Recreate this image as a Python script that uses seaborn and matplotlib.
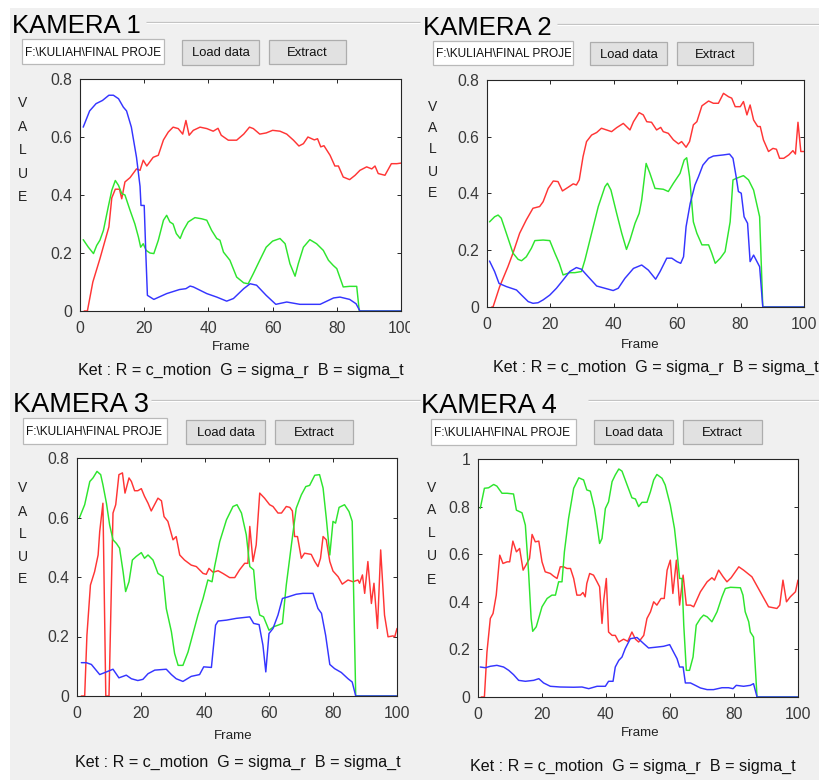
import matplotlib
matplotlib.use("Agg")
import matplotlib.pyplot as plt
import seaborn as sns
import pandas as pd
from matplotlib.patches import Rectangle
from matplotlib.transforms import Bbox

# ---------------------------------------------------------------------------
# Data: (frame, value) pairs for each camera and feature
# R = c_motion, G = sigma_r, B = sigma_t
# ---------------------------------------------------------------------------
K1_C_MOTION = [(1.3, 0), (2.3, 0), (4, 0.1), (6.2, 0.18), (9, 0.29), (9.9, 0.39), (11, 0.42), (12.3, 0.42),
               (13, 0.387), (14, 0.445), (15.6, 0.46), (17.6, 0.49), (18.7, 0.485), (19.7, 0.52), (20.8, 0.5),
               (22.8, 0.53), (24.4, 0.537), (26, 0.59), (27.5, 0.617), (29, 0.634), (30.6, 0.629), (32, 0.61),
               (33, 0.657), (34, 0.606), (35.3, 0.623), (37.4, 0.634), (39.5, 0.629), (41.5, 0.62), (43, 0.63),
               (44, 0.606), (46.2, 0.589), (48.8, 0.589), (51, 0.61), (52.8, 0.634), (54, 0.629), (56, 0.61),
               (58, 0.614), (60, 0.623), (62.3, 0.62), (64.4, 0.61), (66.5, 0.589), (68.2, 0.569), (69.6, 0.577),
               (71, 0.6), (73, 0.59), (74, 0.594), (75, 0.566), (76, 0.57), (77.9, 0.537), (79.4, 0.5),
               (80.5, 0.5), (82, 0.462), (84, 0.453), (85.7, 0.468), (87.2, 0.485), (89.3, 0.497), (90.9, 0.49),
               (91.9, 0.5), (92.9, 0.474), (95, 0.468), (97, 0.508), (98.7, 0.508), (100, 0.51)]
K1_SIGMA_R = [(1, 0.246), (2.6, 0.22), (4.2, 0.198), (5.2, 0.226), (6.2, 0.244), (7.3, 0.278), (8.8, 0.359),
              (9.9, 0.416), (11, 0.45), (12, 0.433), (13, 0.405), (14, 0.4), (15.6, 0.347), (17.1, 0.3),
              (18.2, 0.255), (18.9, 0.22), (19.7, 0.232), (20.6, 0.209), (21.8, 0.2), (23, 0.198), (24.4, 0.244),
              (26, 0.313), (27, 0.33), (28, 0.307), (29, 0.3), (30, 0.267), (31.2, 0.25), (32.2, 0.278),
              (33.7, 0.307), (35.8, 0.322), (37.9, 0.318), (39.5, 0.313), (41, 0.278), (42.6, 0.25),
              (43.6, 0.244), (44.7, 0.203), (46.7, 0.175), (48.8, 0.117), (51, 0.097), (52.4, 0.094), (54, 0.129),
              (56, 0.175), (58, 0.22), (60, 0.241), (62.3, 0.25), (63.9, 0.232), (65.4, 0.163), (67, 0.12),
              (68, 0.163), (69.6, 0.22), (71.6, 0.246), (73.7, 0.232), (75.8, 0.209), (77.4, 0.175),
              (78.9, 0.157), (80, 0.146), (82, 0.083), (84, 0.085), (86.2, 0.085), (87, 0), (100, 0)]
K1_SIGMA_T = [(1, 0.634), (3, 0.69), (5, 0.715), (7, 0.726), (9, 0.744), (10.4, 0.744), (12, 0.732),
              (13.5, 0.703), (14.5, 0.69), (16, 0.634), (17.6, 0.53), (18.7, 0.43), (19, 0.364), (20, 0.364),
              (20.5, 0.2), (21, 0.054), (23, 0.04), (27, 0.06), (31, 0.074), (33, 0.077), (34.3, 0.086),
              (35.3, 0.083), (39.5, 0.06), (42.6, 0.048), (45.7, 0.034), (47.8, 0.043), (51, 0.077), (53, 0.094),
              (55, 0.089), (58, 0.054), (61, 0.023), (64.4, 0.031), (68.5, 0.023), (74.8, 0.023), (79, 0.045),
              (81, 0.048), (84, 0.04), (86, 0.025), (87.2, 0), (100, 0)]

K2_C_MOTION = [(1.5, 0), (1.9, 0), (4, 0.072), (6.6, 0.142), (8.2, 0.19), (10.3, 0.26), (12.4, 0.307),
               (14.5, 0.348), (16.6, 0.354), (17.7, 0.371), (19.3, 0.418), (20.9, 0.444), (22.4, 0.442),
               (23.8, 0.409), (25.6, 0.422), (27.2, 0.434), (28.2, 0.43), (29.1, 0.448), (30.3, 0.53),
               (31.4, 0.583), (33, 0.606), (34.6, 0.615), (36.1, 0.63), (37.7, 0.624), (39.3, 0.618),
               (40.9, 0.632), (43, 0.647), (45.1, 0.624), (46.2, 0.653), (48, 0.685), (49.3, 0.677),
               (50.4, 0.653), (51.9, 0.651), (53.5, 0.624), (54.8, 0.633), (55.6, 0.618), (57.2, 0.612),
               (58.8, 0.589), (60.4, 0.575), (61.4, 0.583), (62.8, 0.563), (63.9, 0.583), (65.1, 0.642),
               (66.2, 0.653), (67.8, 0.709), (69.9, 0.726), (71.4, 0.718), (73, 0.718), (74.6, 0.753),
               (76.2, 0.741), (77.2, 0.736), (78.3, 0.706), (79.9, 0.706), (80.9, 0.724), (82, 0.677),
               (83, 0.712), (84.1, 0.659), (85.4, 0.636), (86.2, 0.636), (87.2, 0.589), (88.8, 0.548),
               (90.2, 0.559), (91.3, 0.556), (92.3, 0.524), (93.6, 0.524), (95.2, 0.536), (96.5, 0.551),
               (97.3, 0.539), (98.1, 0.651), (99, 0.548), (100, 0.548)]
K2_SIGMA_R = [(0.8, 0.3), (2.4, 0.318), (3.5, 0.324), (4.5, 0.313), (6.1, 0.26), (8.2, 0.19), (9.8, 0.168),
              (10.9, 0.163), (12.4, 0.177), (14, 0.207), (15.1, 0.234), (17.7, 0.236), (19.8, 0.234),
              (21.4, 0.19), (22.8, 0.154), (24, 0.113), (26.1, 0.121), (27.7, 0.121), (29.8, 0.125),
              (30.9, 0.166), (33, 0.26), (35.1, 0.354), (37.2, 0.424), (38, 0.436), (39.1, 0.412), (40.9, 0.33),
              (42.5, 0.26), (44, 0.203), (45.1, 0.236), (46.7, 0.295), (48, 0.33), (48.8, 0.377), (50.2, 0.506),
              (51.4, 0.471), (53, 0.418), (55.6, 0.415), (57.2, 0.407), (58.8, 0.436), (60.9, 0.471),
              (62.2, 0.518), (63, 0.526), (63.9, 0.459), (65.1, 0.3), (66.2, 0.26), (67.8, 0.219),
              (69.9, 0.219), (70.9, 0.19), (72, 0.154), (73.6, 0.172), (75.1, 0.195), (76.7, 0.3),
              (77.6, 0.448), (78.8, 0.454), (80.9, 0.463), (82.5, 0.448), (84.1, 0.412), (86, 0.318),
              (87, 0), (100, 0)]
K2_SIGMA_T = [(0.8, 0.162), (2.4, 0.125), (3.8, 0.083), (6.1, 0.072), (9.3, 0.06), (10.9, 0.042), (13, 0.019),
              (14.5, 0.013), (16.1, 0.015), (17.7, 0.025), (19.8, 0.042), (21.9, 0.066), (24, 0.095),
              (26.1, 0.125), (28.2, 0.139), (29.8, 0.133), (31.9, 0.107), (34.6, 0.074), (37.2, 0.066),
              (39.8, 0.058), (41.4, 0.066), (43.5, 0.101), (46.2, 0.136), (48.8, 0.148), (50.9, 0.13),
              (53.2, 0.098), (54.6, 0.125), (56.7, 0.172), (58.3, 0.172), (59.9, 0.16), (61.1, 0.154),
              (62, 0.177), (62.8, 0.283), (64.1, 0.365), (65.6, 0.43), (66.7, 0.459), (68.1, 0.5),
              (69.9, 0.524), (71.4, 0.532), (74.6, 0.536), (76.5, 0.539), (77.6, 0.524), (78.6, 0.459),
              (79.3, 0.407), (80.2, 0.401), (81.1, 0.318), (82.2, 0.295), (83, 0.16), (84.1, 0.183),
              (86, 0.142), (87, 0), (100, 0)]

K3_C_MOTION = [(1.35, 0), (2.4, 0), (3.1, 0.204), (4.2, 0.373), (5.5, 0.418), (6.6, 0.474), (7.1, 0.553),
               (8.1, 0.648), (9, 0), (10, 0), (11.25, 0.615), (12.1, 0.643), (13.1, 0.744), (14.2, 0.75),
               (15, 0.682), (16.25, 0.733), (17, 0.721), (18, 0.69), (19, 0.69), (20.1, 0.697), (21.1, 0.671),
               (22.2, 0.648), (23.2, 0.622), (25.3, 0.665), (26.4, 0.656), (27.2, 0.603), (28.4, 0.587),
               (30, 0.525), (31, 0.536), (32.1, 0.474), (33.6, 0.457), (35.7, 0.44), (37.3, 0.435),
               (39.4, 0.412), (40.4, 0.409), (41.25, 0.429), (42.5, 0.416), (44.1, 0.421), (45.6, 0.412),
               (47.7, 0.398), (49.3, 0.398), (50.8, 0.424), (52.4, 0.446), (53.4, 0.446), (54, 0.57),
               (55, 0.452), (56, 0.508), (57.1, 0.682), (58.6, 0.665), (60.2, 0.643), (61.25, 0.637),
               (62.8, 0.615), (63.9, 0.615), (65.4, 0.637), (66.5, 0.634), (67.3, 0.622), (68, 0.536),
               (68.9, 0.536), (70.1, 0.463), (71.1, 0.48), (73.2, 0.476), (74.3, 0.452), (75.3, 0.435),
               (76.1, 0.463), (76.9, 0.536), (77.9, 0.525), (79, 0.452), (80, 0.42), (81.6, 0.401),
               (82.9, 0.376), (84.7, 0.39), (86.25, 0.384), (87.8, 0.39), (88.3, 0.379), (89.2, 0.407),
               (89.9, 0.345), (90.9, 0.452), (92, 0.311), (92.8, 0.379), (93.9, 0.227), (94.9, 0.491),
               (96.1, 0.272), (97.2, 0.199), (98.75, 0.202), (99.3, 0.199), (100, 0.227)]
K3_SIGMA_R = [(0.8, 0.6), (2.4, 0.643), (4, 0.721), (5, 0.733), (6.25, 0.755), (7.4, 0.744), (8.1, 0.71),
              (9.2, 0.648), (10.2, 0.575), (11.25, 0.525), (12.3, 0.513), (13.3, 0.497), (14.4, 0.418),
              (15.2, 0.351), (16.25, 0.384), (17.3, 0.457), (18.5, 0.469), (20.1, 0.482), (21.1, 0.463),
              (22.2, 0.474), (23.75, 0.457), (25.3, 0.412), (26.9, 0.401), (27.9, 0.294), (29.5, 0.216),
              (30.5, 0.143), (31.6, 0.103), (33.1, 0.103), (34.7, 0.148), (36.25, 0.21), (37.8, 0.272),
              (39.4, 0.328), (40.9, 0.39), (42.2, 0.384), (43, 0.435), (44.6, 0.519), (46.7, 0.592),
              (48.75, 0.637), (50, 0.643), (51.4, 0.615), (52.9, 0.542), (54, 0.435), (55.2, 0.424),
              (56, 0.328), (57.1, 0.272), (58.3, 0.266), (60, 0.221), (61.5, 0.233), (62.8, 0.238),
              (64.2, 0.244), (65.4, 0.373), (67, 0.508), (68.5, 0.631), (70.1, 0.676), (71.5, 0.704),
              (72.7, 0.708), (74.3, 0.742), (75.8, 0.744), (76.9, 0.699), (77.9, 0.598), (79, 0.474),
              (80, 0.587), (80.8, 0.581), (81.9, 0.634), (83.6, 0.643), (85, 0.62), (86, 0.587), (87.1, 0),
              (100, 0)]
K3_SIGMA_T = [(1.35, 0.112), (2.9, 0.112), (4.5, 0.106), (7.1, 0.072), (9.2, 0.081), (11.25, 0.09),
              (13.1, 0.061), (15.4, 0.07), (17, 0.058), (19, 0.052), (20.6, 0.056), (22.2, 0.075), (24.3, 0.087),
              (27.9, 0.09), (29.5, 0.072), (31, 0.058), (33.1, 0.049), (35.7, 0.066), (38.3, 0.072),
              (39.6, 0.098), (42, 0.096), (43.3, 0.238), (44.1, 0.252), (46.7, 0.255), (49.8, 0.261),
              (54, 0.266), (55.2, 0.244), (56.9, 0.24), (58.1, 0.171), (59, 0.081), (60, 0.21), (61.25, 0.227),
              (62.8, 0.272), (64.2, 0.328), (65.9, 0.333), (68.5, 0.342), (70.6, 0.345), (73.75, 0.345),
              (75.3, 0.294), (76.4, 0.278), (77.7, 0.204), (79, 0.106), (80.5, 0.092), (82.6, 0.079),
              (84.7, 0.058), (86, 0.047), (87.1, 0), (100, 0)]

K4_C_MOTION = [(1, 0), (2, 0), (2.8, 0.189), (3.85, 0.33), (4.7, 0.351), (5.7, 0.428), (6.8, 0.596),
               (7.8, 0.561), (9.1, 0.568), (9.9, 0.568), (10.9, 0.655), (12, 0.61), (13, 0.624), (14.1, 0.533),
               (15.1, 0.557), (16.1, 0.582), (16.9, 0.683), (17.9, 0.652), (19, 0.655), (20, 0.568),
               (21, 0.526), (22.6, 0.519), (23.6, 0.508), (24.7, 0.498), (25.7, 0.547), (26.8, 0.547),
               (27.8, 0.54), (28.9, 0.54), (29.9, 0.498), (30.9, 0.428), (32, 0.428), (32.8, 0.439),
               (33.5, 0.421), (34, 0.477), (34.9, 0.519), (36.1, 0.512), (37.2, 0.484), (38, 0.463),
               (38.75, 0.309), (39.3, 0.407), (40.1, 0.498), (40.8, 0.273), (41.9, 0.259), (42.9, 0.259),
               (44, 0.231), (45.5, 0.243), (46.8, 0.234), (48.1, 0.273), (49.2, 0.243), (50.2, 0.231),
               (51.8, 0.259), (52.8, 0.33), (53.9, 0.358), (54.9, 0.4), (55.9, 0.386), (57.2, 0.414),
               (58.2, 0.414), (59.1, 0.533), (60.1, 0.575), (60.9, 0.435), (62, 0.575), (63, 0.386),
               (64.1, 0.512), (65.1, 0.386), (66.4, 0.386), (67.4, 0.379), (69.5, 0.442), (71.6, 0.484),
               (73.1, 0.501), (73.9, 0.491), (75.2, 0.533), (76.6, 0.505), (77.8, 0.484), (79.1, 0.501),
               (81.5, 0.547), (83, 0.533), (85.6, 0.505), (88.2, 0.442), (90.8, 0.379), (93.4, 0.372),
               (94.3, 0.386), (95.3, 0.491), (96.4, 0.4), (97.6, 0.421), (99.2, 0.442), (100, 0.491)]
K4_SIGMA_R = [(0.7, 0.792), (2, 0.877), (3.3, 0.879), (4.9, 0.893), (5.9, 0.886), (7.5, 0.856), (9.1, 0.856),
              (11.1, 0.853), (12, 0.785), (13.75, 0.774), (14.8, 0.722), (15.8, 0.526), (16.6, 0.33),
              (17.1, 0.276), (18.2, 0.295), (20, 0.379), (21.6, 0.414), (23.1, 0.428), (24.2, 0.428),
              (25.2, 0.484), (26.25, 0.484), (27, 0.61), (28.3, 0.75), (29.9, 0.877), (31.5, 0.921), (33, 0.912),
              (34, 0.87), (35.1, 0.865), (36.4, 0.792), (37.2, 0.722), (38, 0.645), (38.75, 0.666),
              (39.8, 0.792), (40.8, 0.82), (41.9, 0.905), (42.9, 0.933), (44, 0.958), (45, 0.949),
              (46.6, 0.891), (48.1, 0.837), (49.2, 0.832), (50.2, 0.8), (51.25, 0.818), (52.8, 0.818),
              (53.9, 0.863), (54.9, 0.912), (55.9, 0.935), (57.5, 0.919), (58.5, 0.891), (60.1, 0.806),
              (61.4, 0.708), (62.2, 0.61), (63, 0.498), (63.75, 0.498), (64.3, 0.302), (65.1, 0.112),
              (66.1, 0.112), (67.2, 0.168), (68.2, 0.302), (69.5, 0.33), (70.5, 0.344), (71.6, 0.337),
              (73.1, 0.316), (74.7, 0.358), (76.25, 0.421), (77.3, 0.456), (78.9, 0.461), (82, 0.459),
              (82.8, 0.428), (83.5, 0.358), (84.6, 0.316), (85.1, 0.273), (86.1, 0.252), (87.2, 0), (100, 0)]
K4_SIGMA_T = [(0.7, 0.126), (2.3, 0.123), (3.85, 0.129), (5.9, 0.133), (8, 0.126), (9.6, 0.112), (11.1, 0.094),
              (12.7, 0.07), (14.8, 0.066), (17.4, 0.07), (19, 0.077), (20.5, 0.059), (22.6, 0.045),
              (25.7, 0.042), (29.9, 0.041), (32.5, 0.042), (34.6, 0.035), (37.2, 0.045), (39.8, 0.045),
              (40.8, 0.066), (42.2, 0.066), (42.9, 0.126), (44, 0.154), (45, 0.168), (46, 0.203), (47.6, 0.245),
              (49.7, 0.25), (51.8, 0.224), (53.3, 0.206), (55.4, 0.209), (58, 0.213), (59.9, 0.22),
              (61.1, 0.189), (62.2, 0.161), (63, 0.126), (64.1, 0.126), (64.8, 0.059), (66.4, 0.059),
              (67.9, 0.049), (69.5, 0.038), (71.6, 0.031), (73.6, 0.031), (76.25, 0.039), (78.3, 0.039),
              (79.7, 0.035), (80.7, 0.049), (83, 0.045), (85.1, 0.049), (86.1, 0.056), (87.2, 0), (100, 0)]

TITLES = ["KAMERA 1", "KAMERA 2", "KAMERA 3", "KAMERA 4"]
X_TICKS = [0, 20, 40, 60, 80, 100]
Y_TICKS_08 = [0, 0.2, 0.4, 0.6, 0.8]
Y_TICKS_10 = [0, 0.2, 0.4, 0.6, 0.8, 1.0]
Y_LABELS_08 = ["0", "0.2", "0.4", "0.6", "0.8"]
Y_LABELS_10 = ["0", "0.2", "0.4", "0.6", "0.8", "1"]
PATH_TEXT = "F:\\KULIAH\\FINAL PROJE"
LEGEND_TEXT = "Ket : R = c_motion  G = sigma_r  B = sigma_t"

SERIES = [
    (K1_C_MOTION, K1_SIGMA_R, K1_SIGMA_T),
    (K2_C_MOTION, K2_SIGMA_R, K2_SIGMA_T),
    (K3_C_MOTION, K3_SIGMA_R, K3_SIGMA_T),
    (K4_C_MOTION, K4_SIGMA_R, K4_SIGMA_T),
]
COLORS = ["#ff3535", "#2ee52e", "#3535ff"]

# ---------------------------------------------------------------------------
# Layout of the four camera panels, in pixels from the top-left corner
# ---------------------------------------------------------------------------
LAYOUT = [
    dict(axes=(80, 79, 401, 311), title=(12, 33, 18.5), line=((146, 420, 22),),
         edit=(22, 39, 164, 64), load=(182, 40, 259, 65), extract=(269, 40, 346, 64),
         value_x=23, value_y=(103, 127, 150, 174, 197), frame=(231, 347), ket=(78, 370),
         ymax=0.8, clip_x=410),
    dict(axes=(487, 80, 804, 307), title=(423, 35, 18.5), line=((557, 820, 24),),
         edit=(433, 41, 573, 65), load=(590, 42, 667, 65), extract=(677, 42, 753, 65),
         value_x=433, value_y=(107, 128, 149, 172, 193), frame=(640, 345), ket=(493, 367),
         ymax=0.8, clip_x=None),
    dict(axes=(77, 458, 397, 696), title=(13, 412, 19.5), line=((151, 420, 400),),
         edit=(23, 418, 167, 444), load=(186, 420, 265, 444), extract=(275, 420, 353, 444),
         value_x=23, value_y=(488, 512, 534, 557, 579), frame=(233, 736), ket=(75, 762),
         ymax=0.8, clip_x=410),
    dict(axes=(478, 459, 798, 697), title=(421, 413, 19.5), line=((588, 820, 400),),
         edit=(431, 419, 576, 445), load=(594, 420, 673, 444), extract=(683, 420, 762, 444),
         value_x=432, value_y=(488, 510, 533, 556, 580), frame=(640, 733), ket=(470, 766),
         ymax=1.0, clip_x=None),
]

sns.set_style("white")
plt.rcParams["font.family"] = ["Liberation Sans", "DejaVu Sans"]

W, H = 820, 780
GUI_BG = "#f0f0f0"
INK = "#262626"
fig = plt.figure(figsize=(W / 100, H / 100), dpi=100, facecolor=GUI_BG)

# Background layer for the GUI controls, in pixel coordinates
bg = fig.add_axes([0, 0, 1, 1], zorder=-5)
bg.set_xlim(0, W)
bg.set_ylim(H, 0)
bg.axis("off")
bg.add_patch(Rectangle((0, 0), W, 8, facecolor="white", edgecolor="none"))
bg.add_patch(Rectangle((0, 0), 10, H, facecolor="white", edgecolor="none"))


def px_box(x0, y0, x1, y1):
    return Bbox.from_extents(x0, H - y1, x1, H - y0)


def button(box, label):
    x0, y0, x1, y1 = box
    bg.add_patch(Rectangle((x0, y0), x1 - x0, y1 - y0, facecolor="#e1e1e1",
                           edgecolor="#adadad", linewidth=0.9))
    bg.text((x0 + x1) / 2, (y0 + y1) / 2 + 1, label, ha="center", va="center",
            fontsize=9.4, color="#111111")


for spec, title, series in zip(LAYOUT, TITLES, SERIES):
    # group title with etched frame line
    tx, ty, tsize = spec["title"]
    bg.text(tx, ty, title, ha="left", va="baseline", fontsize=tsize, color="#000000")
    for lx0, lx1, ly in spec["line"]:
        bg.plot([lx0, lx1], [ly, ly], color="#c4c4c4", linewidth=0.9, solid_capstyle="butt")
        bg.plot([lx0, lx1], [ly + 1, ly + 1], color="#ffffff", linewidth=0.7, solid_capstyle="butt")

    # path edit box
    ex0, ey0, ex1, ey1 = spec["edit"]
    bg.add_patch(Rectangle((ex0, ey0), ex1 - ex0, ey1 - ey0, facecolor="white",
                           edgecolor="#b9b9b9", linewidth=0.9))
    t = bg.text(ex0 + 3, (ey0 + ey1) / 2 + 1, PATH_TEXT, ha="left", va="center",
                fontsize=8.6, color="#111111")
    t.set_clip_box(px_box(ex0, ey0, ex1 - 2, ey1))
    t.set_clip_on(True)

    button(spec["load"], "Load data")
    button(spec["extract"], "Extract")

    # vertical "VALUE" caption
    for ch, vy in zip("VALUE", spec["value_y"]):
        bg.text(spec["value_x"], vy, ch, ha="center", va="center", fontsize=10, color="#222222")

    fx, fy = spec["frame"]
    bg.text(fx, fy, "Frame", ha="center", va="center", fontsize=9.6, color="#222222")
    kx, ky = spec["ket"]
    bg.text(kx, ky, LEGEND_TEXT, ha="left", va="center", fontsize=11.6, color="#111111")

    # plot area
    x0, y0, x1, y1 = spec["axes"]
    ax = fig.add_axes([x0 / W, 1 - y1 / H, (x1 - x0) / W, (y1 - y0) / H])
    ax.set_facecolor("white")
    for pts, color in zip(series, COLORS):
        df = pd.DataFrame(pts, columns=["Frame", "Value"])
        sns.lineplot(data=df, x="Frame", y="Value", ax=ax, color=color, linewidth=1.05,
                     estimator=None, sort=False, legend=False)

    ax.set_xlim(0, 100)
    ax.set_ylim(0, spec["ymax"])
    ax.set_xlabel("")
    ax.set_ylabel("")
    ax.set_xticks(X_TICKS)
    ax.set_xticklabels([str(v) for v in X_TICKS])
    if spec["ymax"] > 0.9:
        ax.set_yticks(Y_TICKS_10)
        ax.set_yticklabels(Y_LABELS_10)
    else:
        ax.set_yticks(Y_TICKS_08)
        ax.set_yticklabels(Y_LABELS_08)
    ax.tick_params(axis="both", direction="in", length=3.2, width=0.7, colors=INK,
                   labelcolor="#383838", labelsize=11.3, top=True, right=True,
                   bottom=True, left=True)
    ax.tick_params(axis="x", pad=7.5)
    ax.tick_params(axis="y", pad=5.5)
    for side in ax.spines.values():
        side.set_color(INK)
        side.set_linewidth(0.8)
        side.set_visible(True)

    if spec["clip_x"] is not None:
        for tick in ax.xaxis.get_major_ticks():
            tick.label1.set_clip_box(Bbox.from_extents(0, 0, spec["clip_x"], H))
            tick.label1.set_clip_on(True)

fig.savefig("out.png", dpi=100, facecolor=GUI_BG)
